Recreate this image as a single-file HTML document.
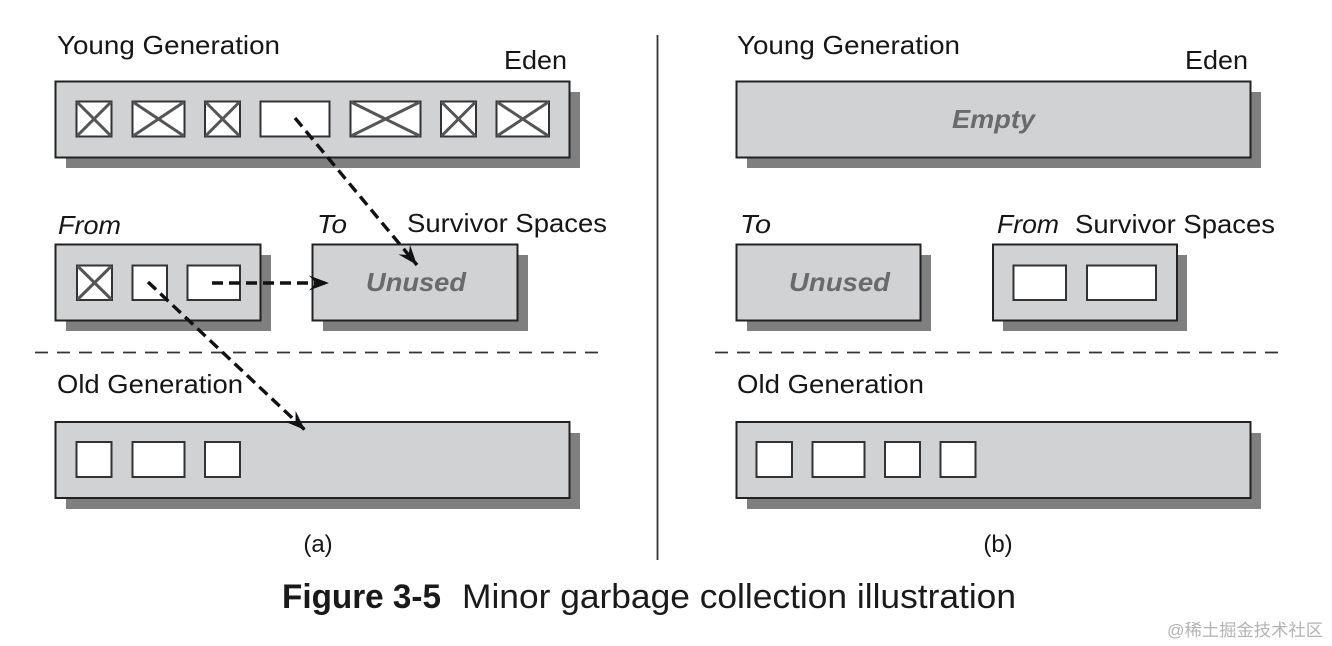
<!DOCTYPE html>
<html>
<head>
<meta charset="utf-8">
<style>
  html, body { margin:0; padding:0; background:#ffffff; }
  svg { display:block; }
  .lbl { font-family:"Liberation Sans", Arial, sans-serif; font-size:26px; fill:#161616; }
  .it { font-style:italic; }
  .gray { font-family:"Liberation Sans", Arial, sans-serif; font-size:26px; font-weight:bold; font-style:italic; fill:#6a6a6a; }
</style>
</head>
<body>
<svg width="1332" height="646" viewBox="0 0 1332 646" xmlns="http://www.w3.org/2000/svg">
  <defs>
    <marker id="ah" markerUnits="userSpaceOnUse" viewBox="-22 -10 24 20" markerWidth="24" markerHeight="20" refX="0" refY="0" orient="auto">
      <path d="M0,0 L-20,-7.5 L-13,0 L-20,7.5 Z" fill="#111"/>
    </marker>
  </defs>

  <!-- ============ LEFT (a) ============ -->
  <text class="lbl" x="57" y="54" textLength="223" lengthAdjust="spacingAndGlyphs">Young Generation</text>
  <text class="lbl" x="504" y="69" textLength="63" lengthAdjust="spacingAndGlyphs">Eden</text>

  <!-- Eden box -->
  <rect x="66" y="92" width="514" height="76" fill="#7f7f7f"/>
  <rect x="55.5" y="81.5" width="514" height="76" fill="#d1d2d4" stroke="#222" stroke-width="2"/>
  <g stroke="#333" stroke-width="2" fill="#fff">
    <rect x="76.5" y="101.5" width="35" height="35"/>
    <rect x="132.5" y="101.5" width="52" height="35"/>
    <rect x="205" y="101.5" width="35" height="35"/>
    <rect x="260.5" y="101.5" width="69" height="35"/>
    <rect x="350.5" y="101.5" width="70" height="35"/>
    <rect x="441" y="101.5" width="35" height="35"/>
    <rect x="496.5" y="101.5" width="52.5" height="35"/>
  </g>
  <g stroke="#555" stroke-width="3">
    <line x1="77" y1="102" x2="111" y2="136"/><line x1="111" y1="102" x2="77" y2="136"/>
    <line x1="133" y1="102" x2="184" y2="136"/><line x1="184" y1="102" x2="133" y2="136"/>
    <line x1="205.5" y1="102" x2="239.5" y2="136"/><line x1="239.5" y1="102" x2="205.5" y2="136"/>
    <line x1="351" y1="102" x2="420" y2="136"/><line x1="420" y1="102" x2="351" y2="136"/>
    <line x1="441.5" y1="102" x2="475.5" y2="136"/><line x1="475.5" y1="102" x2="441.5" y2="136"/>
    <line x1="497" y1="102" x2="548.5" y2="136"/><line x1="548.5" y1="102" x2="497" y2="136"/>
  </g>

  <!-- Survivor labels -->
  <text class="lbl it" x="58" y="234" textLength="63" lengthAdjust="spacingAndGlyphs">From</text>
  <text class="lbl it" x="317" y="233" textLength="30" lengthAdjust="spacingAndGlyphs">To</text>
  <text class="lbl" x="407" y="232" textLength="200" lengthAdjust="spacingAndGlyphs">Survivor Spaces</text>

  <!-- From box -->
  <rect x="66" y="255" width="205" height="76" fill="#7f7f7f"/>
  <rect x="55.5" y="244.5" width="205" height="76" fill="#d1d2d4" stroke="#222" stroke-width="2"/>
  <g stroke="#333" stroke-width="2" fill="#fff">
    <rect x="77" y="265.5" width="35" height="34.5"/>
    <rect x="132.5" y="265.5" width="34.5" height="34.5"/>
    <rect x="187.5" y="265.5" width="52.5" height="34.5"/>
  </g>
  <g stroke="#555" stroke-width="3">
    <line x1="77.5" y1="266" x2="111.5" y2="299.5"/><line x1="111.5" y1="266" x2="77.5" y2="299.5"/>
  </g>

  <!-- To box -->
  <rect x="323" y="255" width="205" height="76" fill="#7f7f7f"/>
  <rect x="312.5" y="244.5" width="205" height="76" fill="#d1d2d4" stroke="#222" stroke-width="2"/>
  <text class="gray" x="366" y="291" textLength="100" lengthAdjust="spacingAndGlyphs">Unused</text>

  <!-- dashed separator -->
  <line x1="35" y1="352.5" x2="601" y2="352.5" stroke="#333" stroke-width="1.8" stroke-dasharray="13,9"/>

  <text class="lbl" x="57" y="393" textLength="186" lengthAdjust="spacingAndGlyphs">Old Generation</text>

  <!-- Old box -->
  <rect x="66" y="433" width="514" height="76" fill="#7f7f7f"/>
  <rect x="55.5" y="422" width="514" height="76" fill="#d1d2d4" stroke="#222" stroke-width="2"/>
  <g stroke="#333" stroke-width="2" fill="#fff">
    <rect x="76.5" y="442" width="35" height="35"/>
    <rect x="132.5" y="442" width="52" height="35"/>
    <rect x="205" y="442" width="35" height="35"/>
  </g>

  <!-- arrows left -->
  <g stroke="#111" stroke-width="3.4" fill="none" stroke-dasharray="11,6">
    <line x1="295" y1="118" x2="417" y2="265" marker-end="url(#ah)"/>
    <line x1="212" y1="283" x2="329" y2="283" marker-end="url(#ah)"/>
    <line x1="148" y1="282" x2="305" y2="430" marker-end="url(#ah)"/>
  </g>

  <text class="lbl" x="318" y="552" text-anchor="middle" style="font-size:24px">(a)</text>

  <!-- vertical divider -->
  <line x1="657.5" y1="35" x2="657.5" y2="560" stroke="#333" stroke-width="1.8"/>

  <!-- ============ RIGHT (b) ============ -->
  <text class="lbl" x="737" y="54" textLength="223" lengthAdjust="spacingAndGlyphs">Young Generation</text>
  <text class="lbl" x="1185" y="69" textLength="63" lengthAdjust="spacingAndGlyphs">Eden</text>

  <rect x="747" y="92" width="514" height="76" fill="#7f7f7f"/>
  <rect x="736.5" y="81.5" width="514" height="76" fill="#d1d2d4" stroke="#222" stroke-width="2"/>
  <text class="gray" x="952" y="128" textLength="83" lengthAdjust="spacingAndGlyphs">Empty</text>

  <text class="lbl it" x="740" y="233" textLength="31" lengthAdjust="spacingAndGlyphs">To</text>
  <text class="lbl it" x="997" y="233" textLength="62" lengthAdjust="spacingAndGlyphs">From</text>
  <text class="lbl" x="1075" y="233" textLength="200" lengthAdjust="spacingAndGlyphs">Survivor Spaces</text>

  <!-- To box right -->
  <rect x="747" y="255" width="184" height="76" fill="#7f7f7f"/>
  <rect x="736.5" y="244.5" width="184" height="76" fill="#d1d2d4" stroke="#222" stroke-width="2"/>
  <text class="gray" x="789" y="291" textLength="101" lengthAdjust="spacingAndGlyphs">Unused</text>

  <!-- From box right -->
  <rect x="1003" y="255" width="184" height="76" fill="#7f7f7f"/>
  <rect x="993" y="244.5" width="184" height="76" fill="#d1d2d4" stroke="#222" stroke-width="2"/>
  <g stroke="#333" stroke-width="2" fill="#fff">
    <rect x="1013.5" y="265.5" width="52.5" height="34.5"/>
    <rect x="1087" y="265.5" width="69" height="34.5"/>
  </g>

  <line x1="715" y1="352.5" x2="1283" y2="352.5" stroke="#333" stroke-width="1.8" stroke-dasharray="13,9"/>

  <text class="lbl" x="737" y="393" textLength="187" lengthAdjust="spacingAndGlyphs">Old Generation</text>

  <rect x="747" y="433" width="514" height="76" fill="#7f7f7f"/>
  <rect x="736.5" y="422" width="514" height="76" fill="#d1d2d4" stroke="#222" stroke-width="2"/>
  <g stroke="#333" stroke-width="2" fill="#fff">
    <rect x="756.5" y="442" width="35.5" height="35"/>
    <rect x="812.5" y="442" width="52" height="35"/>
    <rect x="885" y="442" width="35" height="35"/>
    <rect x="940.5" y="442" width="35" height="35"/>
  </g>

  <text class="lbl" x="998" y="552" text-anchor="middle" style="font-size:24px">(b)</text>

  <!-- caption -->
  <text x="282" y="608" font-family="'Liberation Sans Narrow', 'Liberation Sans', Arial, sans-serif" font-size="34" font-weight="bold" fill="#1a1a1a" textLength="159" lengthAdjust="spacingAndGlyphs">Figure 3-5</text>
  <text x="462" y="608" font-family="'Liberation Sans Narrow', 'Liberation Sans', Arial, sans-serif" font-size="34" fill="#1a1a1a" textLength="554" lengthAdjust="spacingAndGlyphs">Minor garbage collection illustration</text>

  <!-- watermark -->
  <text x="1167" y="636" font-family="'Liberation Sans', 'Noto Sans CJK SC', sans-serif" font-size="17" fill="#b3b3b3" textLength="156" lengthAdjust="spacingAndGlyphs">@稀土掘金技术社区</text>
</svg>
</body>
</html>
